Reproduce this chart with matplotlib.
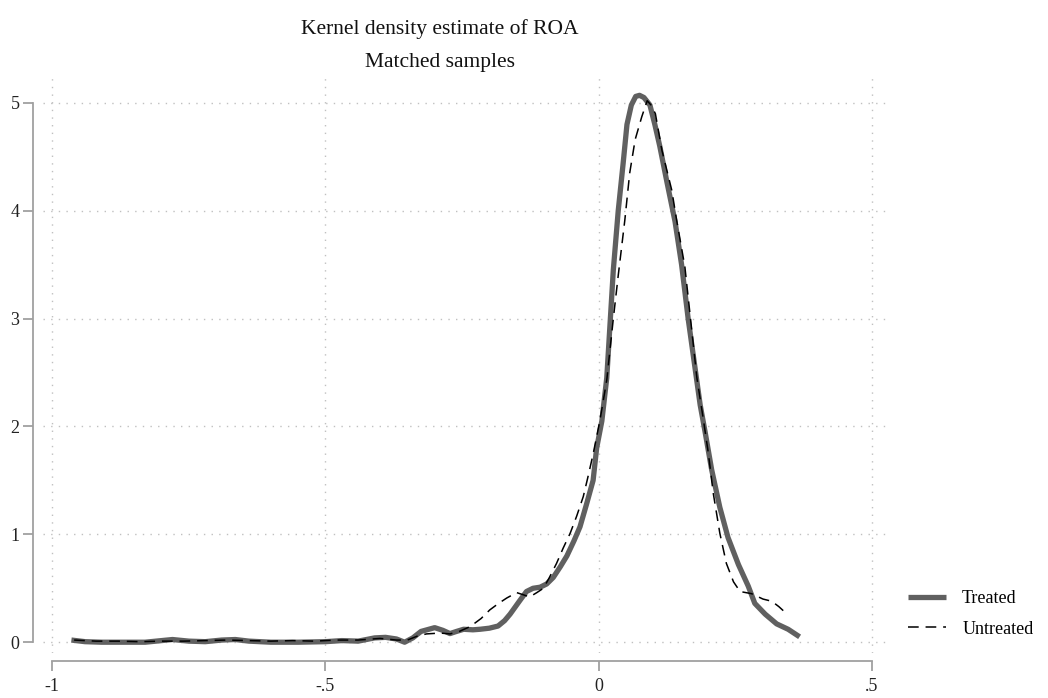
import matplotlib
matplotlib.use("Agg")
import matplotlib.pyplot as plt

treated_x = [-0.965, -0.94, -0.91, -0.87, -0.83, -0.80, -0.78, -0.75, -0.72, -0.69, -0.665, -0.64,
             -0.60, -0.55, -0.50, -0.47, -0.44, -0.41, -0.39, -0.37, -0.355, -0.34, -0.325, -0.30,
             -0.285, -0.272, -0.26, -0.247, -0.23, -0.217, -0.20, -0.184, -0.172, -0.162, -0.145,
             -0.132, -0.12, -0.107, -0.095, -0.083, -0.07, -0.058, -0.045, -0.034, -0.022, -0.01,
             -0.0035, 0.006, 0.015, 0.021, 0.027, 0.036, 0.045, 0.052, 0.06, 0.068, 0.075, 0.083,
             0.094, 0.103, 0.112, 0.125, 0.14, 0.152, 0.164, 0.175, 0.186, 0.195, 0.207, 0.222,
             0.237, 0.256, 0.274, 0.286, 0.305, 0.326, 0.347, 0.368]
treated_y = [0.02, 0.005, 0.0, 0.0, 0.0, 0.015, 0.025, 0.01, 0.005, 0.02, 0.025, 0.01,
             0.0, 0.0, 0.005, 0.015, 0.01, 0.04, 0.045, 0.03, 0.0, 0.04, 0.10, 0.135,
             0.11, 0.08, 0.10, 0.12, 0.115, 0.12, 0.13, 0.15, 0.20, 0.26, 0.38,
             0.47, 0.50, 0.51, 0.54, 0.60, 0.70, 0.80, 0.94, 1.07, 1.28, 1.50,
             1.80, 2.05, 2.45, 2.95, 3.45, 4.0, 4.44, 4.80, 4.98, 5.06, 5.07, 5.05,
             4.98, 4.80, 4.60, 4.27, 3.90, 3.50, 3.0, 2.60, 2.20, 1.95, 1.60, 1.25,
             0.97, 0.72, 0.52, 0.36, 0.26, 0.17, 0.12, 0.05]

untreated_x = [-0.96, -0.92, -0.88, -0.84, -0.80, -0.76, -0.72, -0.68, -0.64, -0.60, -0.56, -0.52,
               -0.48, -0.44, -0.40, -0.37, -0.35, -0.33, -0.315, -0.29, -0.272, -0.255, -0.235,
               -0.215, -0.199, -0.183, -0.168, -0.15, -0.138, -0.126, -0.113, -0.101, -0.09,
               -0.077, -0.065, -0.052, -0.04, -0.028, -0.02, -0.0097, 0.0026, 0.015, 0.027,
               0.036, 0.048, 0.057, 0.067, 0.079, 0.089, 0.096, 0.104, 0.116, 0.134, 0.143,
               0.158, 0.17, 0.18, 0.192, 0.201, 0.21, 0.222, 0.234, 0.247, 0.259, 0.280,
               0.301, 0.317, 0.33, 0.343]
untreated_y = [0.02, 0.01, 0.01, 0.005, 0.01, 0.01, 0.015, 0.02, 0.015, 0.01, 0.015, 0.01,
               0.02, 0.02, 0.035, 0.02, 0.02, 0.06, 0.077, 0.085, 0.077, 0.10, 0.145,
               0.22, 0.30, 0.36, 0.41, 0.46, 0.44, 0.42, 0.46, 0.50, 0.60,
               0.73, 0.87, 1.01, 1.17, 1.35, 1.52, 1.75, 2.06, 2.43, 3.0,
               3.40, 3.91, 4.35, 4.66, 4.87, 5.02, 4.98, 4.90, 4.56, 4.19, 3.91,
               3.48, 2.92, 2.45, 2.06, 1.75, 1.38, 1.01, 0.73, 0.56, 0.47, 0.45,
               0.40, 0.38, 0.33, 0.27]

x_ticks = [-1, -0.5, 0, 0.5]
x_tick_labels = ["-1", "-.5", "0", ".5"]
y_ticks = [0, 1, 2, 3, 4, 5]
y_tick_labels = ["0", "1", "2", "3", "4", "5"]

plt.rcParams['font.family'] = ['Liberation Serif', 'DejaVu Serif']

W, H = 1048, 698
fig = plt.figure(figsize=(W / 100, H / 100), dpi=100)
ax = fig.add_axes([43 / W, 1 - 653 / H, (887 - 43) / W, (653 - 77) / H])

ax.plot(treated_x, treated_y, color="#606060", lw=3.8, solid_capstyle="butt",
        solid_joinstyle="round", label="Treated", zorder=3)
ax.plot(untreated_x, untreated_y, color="black", lw=1.1, dashes=(7, 4.5),
        label="Untreated", zorder=4)

ax.set_xlim(-1.017, 0.528)
ax.set_ylim(-0.10, 5.24)
ax.set_xticks(x_ticks)
ax.set_xticklabels(x_tick_labels)
ax.set_yticks(y_ticks)
ax.set_yticklabels(y_tick_labels)

ax.grid(True, linestyle=(0, (1, 4.5)), color="#c0c0c0", lw=1.0)
ax.set_axisbelow(True)

for s in ["top", "right"]:
    ax.spines[s].set_visible(False)
ax.spines["left"].set_position(("outward", 7))
ax.spines["bottom"].set_position(("outward", 6))
ax.spines["left"].set_bounds(0, 5)
ax.spines["bottom"].set_bounds(-1, 0.5)
for s in ["left", "bottom"]:
    ax.spines[s].set_color("#a0a0a0")
    ax.spines[s].set_linewidth(1.3)
ax.tick_params(axis="both", length=7, width=1.3, color="#a0a0a0",
               labelsize=13, labelcolor="#222222")
ax.tick_params(axis="x", pad=5)
ax.tick_params(axis="y", pad=3)

fig.text(440 / W, 1 - 29 / H, "Kernel density estimate of ROA", ha="center", va="center",
         fontsize=15.5, color="#111111")
fig.text(440 / W, 1 - 62 / H, "Matched samples", ha="center", va="center",
         fontsize=15.5, color="#111111")

fig.legend(loc="center left", bbox_to_anchor=(908 / W, 1 - 614 / H), frameon=False,
           fontsize=13, handlelength=2.1, handletextpad=0.9, labelspacing=0.75,
           borderaxespad=0, borderpad=0)

fig.savefig("out.png", dpi=100)
